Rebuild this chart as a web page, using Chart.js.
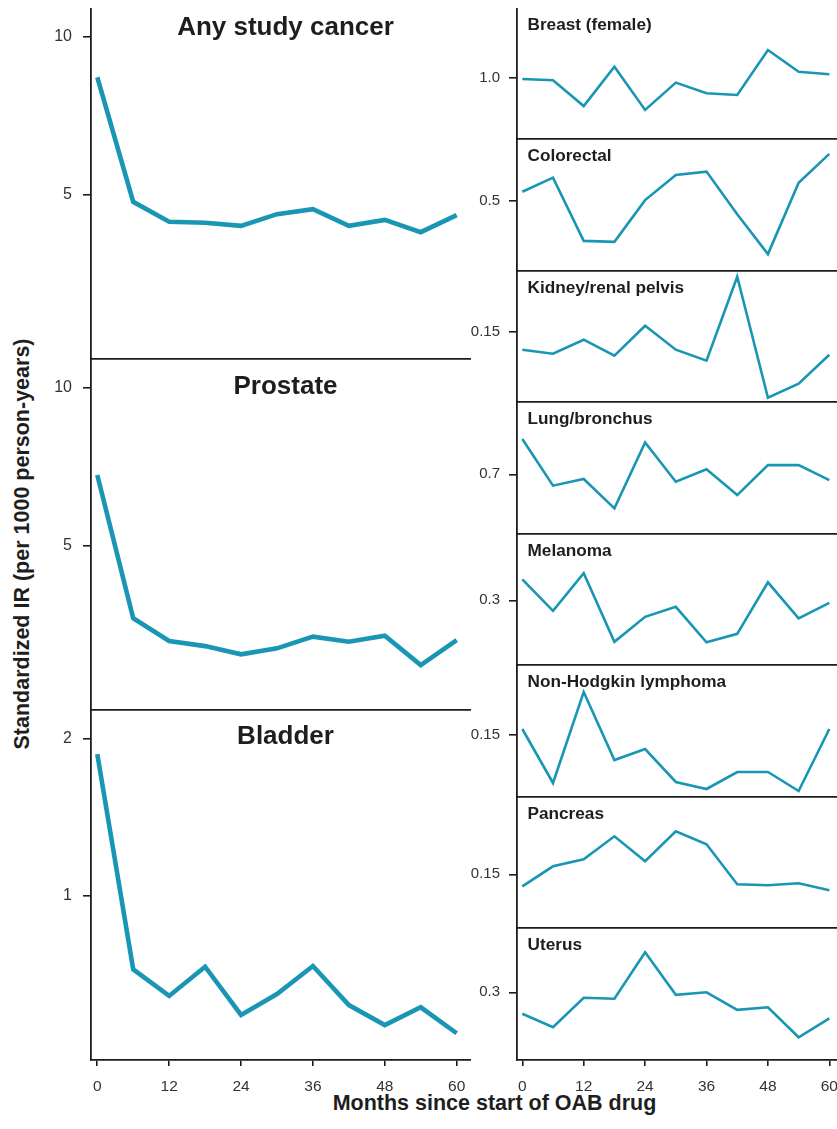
<!DOCTYPE html>
<html><head><meta charset="utf-8">
<script src="https://cdn.jsdelivr.net/npm/chart.js@4.4.1/dist/chart.umd.min.js"></script>
<style>
html,body{margin:0;padding:0;background:#fff;overflow:hidden;width:837px;height:1129px;position:relative;}
canvas{position:absolute;}
.t{position:absolute;font-family:"Liberation Sans",Arial,sans-serif;font-weight:bold;color:#1e1e1e;white-space:nowrap;line-height:24px;}
#xt{left:494.5px;top:1091px;transform:translateX(-50%);font-size:21.5px;}
#yt{left:22px;top:544px;transform:translate(-50%,-50%) rotate(-90deg);font-size:21.5px;}
</style></head><body>
<div class="t" id="xt">Months since start of OAB drug</div>
<div class="t" id="yt">Standardized IR (per 1000 person-years)</div>
<script>
// ---- data ----
const months = [0, 6, 12, 18, 24, 30, 36, 42, 48, 54, 60];
const xTickValues = [0, 12, 24, 36, 48, 60];

const anyStudy   = [8.71, 4.77, 4.14, 4.11, 4.01, 4.38, 4.54, 4.01, 4.20, 3.81, 4.35];
const prostate   = [7.23, 2.70, 1.98, 1.82, 1.56, 1.75, 2.12, 1.96, 2.15, 1.22, 2.01];
const bladder    = [1.90, 0.532, 0.363, 0.549, 0.242, 0.375, 0.553, 0.305, 0.178, 0.291, 0.126];

const breast     = [0.995, 0.987, 0.815, 1.077, 0.789, 0.971, 0.900, 0.889, 1.189, 1.044, 1.027];
const colorectal = [0.531, 0.578, 0.367, 0.364, 0.503, 0.587, 0.598, 0.456, 0.323, 0.561, 0.657];
const kidney     = [0.132, 0.128, 0.142, 0.126, 0.156, 0.132, 0.121, 0.205, 0.084, 0.098, 0.127];
const lung       = [0.865, 0.647, 0.678, 0.541, 0.849, 0.665, 0.723, 0.603, 0.743, 0.743, 0.673];
const melanoma   = [0.342, 0.279, 0.354, 0.217, 0.267, 0.287, 0.216, 0.233, 0.336, 0.264, 0.295];
const nhl        = [0.156, 0.102, 0.193, 0.125, 0.136, 0.103, 0.096, 0.113, 0.113, 0.094, 0.156];
const pancreas   = [0.138, 0.158, 0.165, 0.188, 0.163, 0.193, 0.180, 0.140, 0.139, 0.141, 0.134];
const uterus     = [0.257, 0.230, 0.289, 0.287, 0.380, 0.295, 0.300, 0.265, 0.270, 0.210, 0.248];

const leftTitles  = ['Any study cancer', 'Prostate', 'Bladder'];
const leftTicks   = [10, 5];
const bladderTicks = [2, 1];
const rightTitles = ['Breast (female)', 'Colorectal', 'Kidney/renal pelvis', 'Lung/bronchus',
                     'Melanoma', 'Non-Hodgkin lymphoma', 'Pancreas', 'Uterus'];
const rightTickValues = [1.0, 0.5, 0.15, 0.7, 0.3, 0.15, 0.15, 0.3];
const rightTickLabels = ['1.0', '0.5', '0.15', '0.7', '0.3', '0.15', '0.15', '0.3'];

// ---- style / layout ----
const LINE = '#1996b4';
const AX = '#1c1c1c';
const FONT = '"Liberation Sans", Arial, sans-serif';

const panelTitle = {
  id: 'panelTitle',
  afterDraw(chart, args, o) {
    const ctx = chart.ctx;
    ctx.save();
    ctx.font = o.font;
    ctx.fillStyle = '#1e1e1e';
    ctx.textAlign = o.align;
    ctx.textBaseline = 'middle';
    ctx.fillText(o.text, o.x, o.y);
    ctx.restore();
  }
};

function makePanel(p) {
  const c = document.createElement('canvas');
  c.width = p.w; c.height = p.h;
  c.style.left = p.left + 'px'; c.style.top = p.top + 'px';
  c.style.width = p.w + 'px'; c.style.height = p.h + 'px';
  document.body.appendChild(c);
  const ticks = p.ticks;
  new Chart(c, {
    type: 'line',
    data: { datasets: [{
      data: months.map((m, i) => ({ x: m, y: p.values[i] })),
      borderColor: LINE, borderWidth: p.lw, pointRadius: 0, tension: 0,
      borderJoinStyle: 'miter', fill: false
    }]},
    options: {
      responsive: false, animation: false, devicePixelRatio: 1,
      layout: { padding: { top: 0, left: 0, right: 0, bottom: p.showX ? 0 : 2 } },
      plugins: {
        legend: { display: false }, tooltip: { enabled: false },
        panelTitle: p.title
      },
      scales: {
        x: {
          type: 'linear', min: p.xMin, max: p.xMax,
          afterBuildTicks: s => { s.ticks = xTickValues.map(v => ({ value: v })); },
          afterFit: s => { s.height = p.showX ? p.h - p.area : 0; s.paddingLeft = 0; s.paddingRight = 0; s.paddingTop = 0; s.paddingBottom = 0; },
          grid: { display: true, drawOnChartArea: false, drawTicks: p.showX, tickLength: 6, color: AX, lineWidth: 1.6 },
          border: { display: true, color: AX, width: 1.8 },
          ticks: { display: p.showX, padding: 11, color: '#333', autoSkip: false, maxRotation: 0,
                   font: { family: FONT, size: 15.5 } }
        },
        y: {
          type: 'linear', min: p.yMin, max: p.yMax,
          afterBuildTicks: s => { s.ticks = ticks.map(v => ({ value: v })); },
          afterFit: s => { s.width = p.yWidth; s.paddingTop = 0; s.paddingBottom = 0; s.paddingLeft = 0; s.paddingRight = 0; },
          grid: { display: true, drawOnChartArea: false, drawTicks: true, tickLength: 8, color: AX, lineWidth: 1.6 },
          border: { display: true, color: AX, width: 1.8 },
          ticks: { padding: p.tickPad, color: '#333', font: { family: FONT, size: p.tickSize },
                   callback: v => p.labelFn(v) }
        }
      }
    },
    plugins: [panelTitle]
  });
}

// left column
const leftData = [anyStudy, prostate, bladder];
const leftTops = [8, 359, 710];
const leftAreas = [351, 351, 350];
const leftRanges = [[-0.2, 10.9], [-0.2, 10.9], [-0.044, 2.18]];
const leftTitleY = [19.5, 28, 27];
leftData.forEach((vals, i) => {
  const last = i === 2;
  const area = leftAreas[i];
  makePanel({
    left: 0, top: leftTops[i], w: 471, h: last ? area + 50 : area + 2, area,
    values: vals, lw: 4.6, showX: last,
    xMin: -1.05, xMax: 62.39, yMin: leftRanges[i][0], yMax: leftRanges[i][1],
    ticks: last ? bladderTicks : leftTicks, labelFn: v => String(v),
    yWidth: 91, tickPad: 11, tickSize: 16,
    title: { text: leftTitles[i], font: 'bold 26px ' + FONT, align: 'center', x: 285.5, y: leftTitleY[i] }
  });
});

// right column
const rightData = [breast, colorectal, kidney, lung, melanoma, nhl, pancreas, uterus];
const rightTops = [8, 139, 271, 402, 534, 665, 797, 928];
const rightAreas = [131, 132, 131, 132, 131, 132, 131, 132];
const rightRanges = [[0.595, 1.469], [0.2667, 0.7067], [0.0797, 0.2107], [0.4214, 1.0374],
                     [0.1706, 0.4326], [0.088, 0.22], [0.0963, 0.2273], [0.1646, 0.4286]];
rightData.forEach((vals, i) => {
  const last = i === 7;
  const area = rightAreas[i];
  makePanel({
    left: 460, top: rightTops[i], w: 420, h: last ? area + 50 : area + 2, area,
    values: vals, lw: 2.6, showX: last,
    xMin: -1.036, xMax: 69.9, yMin: rightRanges[i][0], yMax: rightRanges[i][1],
    ticks: [rightTickValues[i]], labelFn: () => rightTickLabels[i],
    yWidth: 57, tickPad: 9, tickSize: 15,
    title: { text: rightTitles[i], font: 'bold 17.2px ' + FONT, align: 'left', x: 67.5, y: 17.5 }
  });
});
</script>
</body></html>
